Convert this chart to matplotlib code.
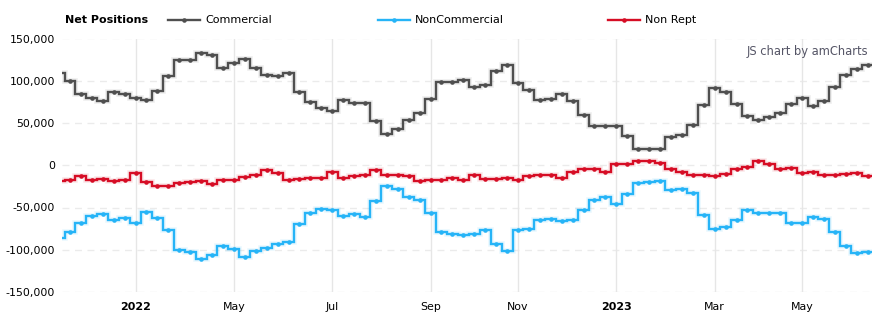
import matplotlib
matplotlib.use("Agg")
import matplotlib.pyplot as plt
from matplotlib.lines import Line2D
import numpy as np
import pandas as pd

# ---- data (weekly reports, first one partially clipped at the left edge) ----
start_date = "2022-01-11"
commercial = [109, 100, 84, 80, 76, 87, 84, 80, 77, 88, 106, 125, 125, 133, 131, 115, 121, 126,
              115, 107, 106, 109, 87, 75, 68, 64, 77, 74, 74, 52, 37, 43, 53, 62, 78, 99, 99,
              101, 93, 95, 111, 119, 97, 89, 77, 78, 84, 76, 60, 46, 46, 47, 35, 19, 19, 19, 34,
              36, 48, 71, 91, 87, 73, 58, 53, 57, 62, 73, 79, 70, 76, 93, 107, 114, 119]
noncommercial = [-86, -79, -68, -60, -58, -65, -62, -68, -55, -62, -77, -100, -103, -111, -106, -95,
                 -99, -109, -102, -98, -93, -91, -69, -57, -52, -53, -60, -58, -61, -42, -24, -28,
                 -38, -41, -57, -79, -81, -82, -81, -77, -93, -102, -77, -75, -65, -64, -66, -65,
                 -53, -41, -37, -46, -34, -21, -20, -19, -29, -28, -33, -59, -75, -73, -65, -53,
                 -56, -56, -56, -68, -68, -61, -64, -79, -95, -104, -103]
nonrept = [-19, -18, -13, -18, -16, -19, -18, -9, -20, -24, -25, -21, -20, -19, -22, -18, -18, -14,
           -12, -6, -9, -17, -16, -15, -15, -8, -15, -13, -11, -6, -11, -12, -13, -19, -18, -17,
           -15, -17, -11, -16, -16, -15, -17, -13, -11, -12, -15, -8, -5, -4, -8, 1, 2, 5, 5, 3,
           -4, -8, -12, -11, -13, -10, -5, -2, 5, 2, -4, -3, -9, -8, -11, -11, -10, -9, -13]
series_names = ["Commercial", "NonCommercial", "Non Rept"]
series_colors = ["#4f4f4f", "#26b4f7", "#d60d25"]
tick_dates = ["2022-03-01", "2022-05-03", "2022-07-05", "2022-09-06", "2022-11-01",
              "2023-01-03", "2023-03-07", "2023-05-02"]
tick_labels = ["2022", "May", "Jul", "Sep", "Nov", "2023", "Mar", "May"]
bold_labels = {"2022", "2023"}
y_ticks = [-150000, -100000, -50000, 0, 50000, 100000, 150000]

n = len(commercial)
dates = pd.date_range(start_date, periods=n, freq="7D")
x = np.arange(n) - 1  # index 0 = 2022-01-18
edges = np.arange(n + 1) - 1.5

W, H = 887, 325
fig = plt.figure(figsize=(W / 100, H / 100), dpi=100)
ax = fig.add_axes([62 / W, (H - 292) / H, (872 - 62) / W, (292 - 38.5) / H])

for vals, col in zip([commercial, noncommercial, nonrept], series_colors):
    v = np.array(vals) * 1000.0
    ax.stairs(v, edges, color=col, lw=4.0, alpha=0.10, baseline=None, zorder=2)
    ax.stairs(v, edges, color=col, lw=1.7, baseline=None, zorder=3)
    ax.plot(x, v, "o", color=col, ms=3.3, mec="none", zorder=4)

ax.set_xlim(-0.73, 73.4)
ax.set_ylim(-150000, 150000)

# grid
for yv in y_ticks:
    ax.axhline(yv, color="#ebebeb", lw=1, ls=(0, (5, 4)), zorder=1)
date_index = {d.strftime("%Y-%m-%d"): i for i, d in zip(x, dates)}
tick_pos = [date_index[d] for d in tick_dates]
for tp in tick_pos:
    ax.axvline(tp, color="#e6e6e6", lw=1, zorder=1)

ax.set_yticks(y_ticks)
ax.set_yticklabels([f"{v:,}" for v in y_ticks], fontsize=7.9, color="#000000")
ax.set_xticks(tick_pos)
ax.set_xticklabels(tick_labels, fontsize=7.9, color="#000000")
for lab in ax.get_xticklabels():
    if lab.get_text() in bold_labels:
        lab.set_fontweight("bold")
ax.tick_params(axis="both", length=0)
ax.tick_params(axis="y", pad=5)
ax.tick_params(axis="x", pad=7)
for s in ax.spines.values():
    s.set_visible(False)

# legend
ly = 1 - 20 / H
fig.text(65 / W, ly, "Net Positions", fontsize=8, fontweight="bold", va="center", ha="left")
leg_x = [168, 378, 608]
for lx, name, col in zip(leg_x, series_names, series_colors):
    fig.add_artist(Line2D([lx / W, (lx + 32) / W], [ly, ly], color=col, lw=1.7,
                          transform=fig.transFigure))
    fig.add_artist(Line2D([(lx + 16) / W], [ly], marker="o", color=col, ms=3.3, mec="none",
                          transform=fig.transFigure))
    fig.text((lx + 37) / W, ly, name, fontsize=8, va="center", ha="left", color="#000000")

fig.text(868 / W, 1 - 52 / H, "JS chart by amCharts", fontsize=8.3, color="#555566",
         ha="right", va="center")

fig.savefig("out.png", dpi=100)
